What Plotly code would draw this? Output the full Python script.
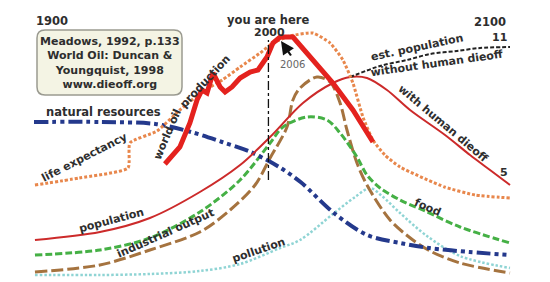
import plotly.graph_objects as go

# ---------------- data (year, relative level) ----------------
res_year = [1900, 1928, 1951, 1966, 1979, 1991, 2003, 2012, 2026, 2040, 2054, 2066, 2083, 2100]
res_val = [160, 160, 158, 150, 140, 130, 115, 100, 69, 47, 39, 34, 30, 27]

life_year = [1900.4, 1919, 1939.5, 1940.3, 1951.7, 1961.3, 1970.6, 1979.1, 1986.6, 1995, 2000.4,
             2007.6, 2017.2, 2024.4, 2029.8, 2034, 2038.2, 2042.4, 2047.4, 2053.8, 2072.5, 2085.3, 2100]
life_val = [97, 104, 114, 139, 151, 172, 190, 202, 215, 229, 239, 246, 249, 239, 222, 199, 165, 142,
            127, 115, 95, 87, 84]

oil_year = [1955.0, 1961.3, 1965.5, 1968.5, 1970.6, 1972.7, 1975.2, 1978.2, 1980.3, 1983.2, 1986.6,
            1990.8, 1994.1, 1997.9, 2000.4, 2003.4, 2008.8, 2017.2, 2025.6, 2034.0, 2042.4]
oil_val = [118, 135, 159, 182, 192, 189, 209, 195, 190, 195, 204, 210, 212, 225, 239, 245, 245, 222,
           199, 172, 140]

pop_year = [1900.4, 1927.7, 1948.7, 1969.7, 1986.6, 1999.2, 2013, 2025.6, 2032.8, 2039.9, 2048.3,
            2058, 2072.7, 2083.2, 2091.6, 2100]
pop_val = [42, 50, 64, 90, 117, 145, 179, 199, 205, 204, 192, 172, 147, 127, 112, 97]

estpop_year = [2032.8, 2045.4, 2056.7, 2066.4, 2077.7, 2087.4, 2100]
estpop_val = [205, 216, 222, 228, 231, 234, 235]

food_year = [1900.4, 1927.7, 1948.7, 1969.7, 1986.6, 1999.2, 2004.6, 2014.7, 2023.1, 2028.6, 2035.7,
             2039.9, 2045.4, 2053.8, 2064.3, 2079, 2100]
food_val = [27, 32, 44, 70, 102, 139, 155, 165, 162, 149, 125, 107, 94, 82, 71, 55, 39]

ind_year = [1900.4, 1927.7, 1948.7, 1969.7, 1982.4, 1992.9, 1999.2, 2006.3, 2008.8, 2011.8, 2018.9,
            2024.4, 2028.6, 2031.5, 2035.7, 2039.9, 2049.6, 2059.2, 2066.4, 2079, 2100]
ind_val = [10, 17, 32, 50, 72, 97, 124, 155, 182, 194, 205, 200, 179, 152, 119, 97, 62, 42, 31, 19, 9]

pol_year = [1900.4, 1927.7, 1948.7, 1969.7, 1986.6, 2003.4, 2011.8, 2025.6, 2034.9, 2041.2, 2046.2,
            2053.8, 2065.1, 2079, 2100]
pol_val = [7, 7, 8, 11, 18, 34, 42, 68, 85, 94, 86, 69, 46, 26, 14]

now_year = 1998.5
now_line = [102, 242]

# ---------------- layout helpers ----------------
W, H = 550, 282
SC = 2.38
X0 = 1900 - 34 / SC
X1 = X0 + W / SC


def dx(p):
    return X0 + p / SC


def dy(p):
    return H - p


TXT = "#2e2e2e"
FONT = "DejaVu Sans, Verdana, sans-serif"

fig = go.Figure()


def add(xs, ys, color, width, dash="solid", shape="spline", smoothing=0.9):
    fig.add_trace(go.Scatter(x=xs, y=ys, mode="lines",
                             line=dict(color=color, width=width, dash=dash, shape=shape,
                                       smoothing=smoothing if shape == "spline" else None),
                             hoverinfo="skip", showlegend=False))


add(pol_year, pol_val, "#8fd4d4", 2.5, "2.5px,2px")
add(ind_year, ind_val, "#a5733f", 3, "12px,4px")
add(food_year, food_val, "#45b045", 3, "7px,3px")
add(res_year, res_val, "#24398c", 4, "14px,4px,4px,4px,4px,4px")
add(pop_year, pop_val, "#cc2a2a", 2)
add(estpop_year, estpop_val, "#222222", 2, "4px,2px")
add(life_year, life_val, "#e8874c", 3, "3px,2px", shape="spline", smoothing=0.5)
add(oil_year, oil_val, "#e4221e", 5, shape="linear")

fig.add_shape(type="line", x0=now_year, x1=now_year, y0=now_line[0], y1=now_line[1],
              line=dict(color="#111111", width=1.3, dash="dashdot"), layer="above")

# rounded box (data coordinates derived from pixel layout)
bx0, bx1, by0, by1, r = 37, 182, 30, 95, 8
path = (f"M {dx(bx0 + r)},{dy(by0)} L {dx(bx1 - r)},{dy(by0)} Q {dx(bx1)},{dy(by0)} {dx(bx1)},{dy(by0 + r)} "
        f"L {dx(bx1)},{dy(by1 - r)} Q {dx(bx1)},{dy(by1)} {dx(bx1 - r)},{dy(by1)} "
        f"L {dx(bx0 + r)},{dy(by1)} Q {dx(bx0)},{dy(by1)} {dx(bx0)},{dy(by1 - r)} "
        f"L {dx(bx0)},{dy(by0 + r)} Q {dx(bx0)},{dy(by0)} {dx(bx0 + r)},{dy(by0)} Z")
fig.add_shape(type="path", path=path, xref="x", yref="y",
              fillcolor="#f4f4e4", line=dict(color="#9a9a90", width=1.5), layer="above")

ann = []


def label(text, x, y, size=11, angle=0, color=TXT, bold=True):
    t = f"<b>{text}</b>" if bold else text
    ann.append(dict(text=t, x=dx(x), y=dy(y), xref="x", yref="y", showarrow=False,
                    xanchor="center", yanchor="middle",
                    textangle=angle, font=dict(family=FONT, size=size, color=color)))


label("1900", 52, 21, 11.5)
label("2100", 490, 22, 11.5)
label("11", 499, 37, 11)
label("5", 504, 172, 11)
label("you are here", 268, 20, 11.5)
label("2000", 269, 32, 11)
label("2006", 292, 64, 10, color="#666666", bold=False)
ann.append(dict(text="<b>Meadows, 1992, p.133<br>World Oil: Duncan &amp;<br>Youngquist, 1998<br>www.dieoff.org</b>",
                x=dx(109.5), y=dy(63), xref="x", yref="y", showarrow=False,
                xanchor="center", yanchor="middle",
                font=dict(family=FONT, size=11, color=TXT), align="center"))
label("natural resources", 103, 112, 11.5)
label("life expectancy", 84, 157, 11, -27)
label("world oil", 167, 134, 11, -67)
label("production", 205, 81, 11, -47)
label("population", 111, 220, 11, -15)
label("industrial output", 165, 233, 11, -24)
label("pollution", 258, 250, 11, -19)
label("food", 428, 207, 11, 24)
label("with human dieoff", 443, 123, 11, 40)
label("est. population", 417, 47, 11, -12)
label("without human dieoff", 436, 63, 11, -8)

# arrow pointing to 2006 peak
ann.append(dict(text="", x=dx(281), y=dy(41), xref="x", yref="y", showarrow=True,
                ax=11, ay=16, arrowhead=2, arrowsize=1.2, arrowwidth=2.2, arrowcolor="#111111"))

fig.update_layout(
    width=W, height=H, autosize=False,
    margin=dict(l=0, r=0, t=0, b=0),
    paper_bgcolor="white", plot_bgcolor="white",
    xaxis=dict(range=[X0, X1], visible=False, fixedrange=True),
    yaxis=dict(range=[0, H], visible=False, fixedrange=True),
    annotations=ann,
)

fig.write_html("out.html")
